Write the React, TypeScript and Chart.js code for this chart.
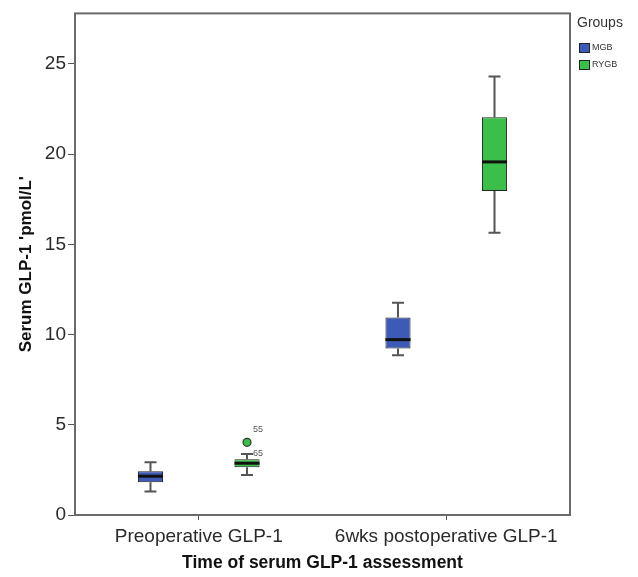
import React, { useEffect, useRef } from "react";
import { Chart, registerables } from "chart.js";

Chart.register(...registerables);

const categories = ["Preoperative GLP-1", "6wks postoperative GLP-1"];
const groups = ["MGB", "RYGB"];
const groupColors = ["#3d5ab6", "#3cbf4a"];

const mgbMin = [1.3, 8.85];
const mgbQ1 = [1.82, 9.23];
const mgbMedian = [2.15, 9.72];
const mgbQ3 = [2.43, 10.94];
const mgbMax = [2.93, 11.77];

const rygbMin = [2.21, 15.64];
const rygbQ1 = [2.65, 17.96];
const rygbMedian = [2.87, 19.57];
const rygbQ3 = [3.09, 22.04];
const rygbMax = [3.38, 24.3];

// outliers: group index, category index, value, case label, marker shown
const outlierGroup = [1, 1];
const outlierCategory = [0, 0];
const outlierValues = [4.03, 3.42];
const outlierLabels = ["55", "65"];
const outlierMarker = [true, false];

const yTicks = [0, 5, 10, 15, 20, 25];
const yMax = 27.8;

const FONT = "'Liberation Sans', Arial, sans-serif";

const stats = [
  { min: mgbMin, q1: mgbQ1, med: mgbMedian, q3: mgbQ3, max: mgbMax },
  { min: rygbMin, q1: rygbQ1, med: rygbMedian, q3: rygbQ3, max: rygbMax },
];

const boxPlugin = {
  id: "boxExtras",
  beforeDatasetsDraw(chart: any) {
    const ctx = chart.ctx;
    const y = chart.scales.y;
    ctx.save();
    stats.forEach((s, di) => {
      const meta = chart.getDatasetMeta(di);
      meta.data.forEach((el: any, ci: number) => {
        const x = el.x;
        const capW = 12;
        ctx.strokeStyle = "#555";
        ctx.lineWidth = 2;
        ctx.beginPath();
        ctx.moveTo(x, y.getPixelForValue(s.q3[ci]));
        ctx.lineTo(x, y.getPixelForValue(s.max[ci]));
        ctx.moveTo(x, y.getPixelForValue(s.q1[ci]));
        ctx.lineTo(x, y.getPixelForValue(s.min[ci]));
        ctx.moveTo(x - capW / 2, y.getPixelForValue(s.max[ci]));
        ctx.lineTo(x + capW / 2, y.getPixelForValue(s.max[ci]));
        ctx.moveTo(x - capW / 2, y.getPixelForValue(s.min[ci]));
        ctx.lineTo(x + capW / 2, y.getPixelForValue(s.min[ci]));
        ctx.stroke();
      });
    });
    ctx.restore();
  },
  afterDatasetsDraw(chart: any) {
    const ctx = chart.ctx;
    const y = chart.scales.y;
    ctx.save();
    stats.forEach((s, di) => {
      const meta = chart.getDatasetMeta(di);
      meta.data.forEach((el: any, ci: number) => {
        const x = el.x;
        const w = el.width;
        ctx.strokeStyle = "#111";
        ctx.lineWidth = 3;
        ctx.beginPath();
        const my = y.getPixelForValue(s.med[ci]);
        ctx.moveTo(x - w / 2, my);
        ctx.lineTo(x + w / 2, my);
        ctx.stroke();
      });
    });
    outlierValues.forEach((v, i) => {
      const meta = chart.getDatasetMeta(outlierGroup[i]);
      const el: any = meta.data[outlierCategory[i]];
      const px = el.x;
      const py = y.getPixelForValue(v);
      if (outlierMarker[i]) {
        ctx.beginPath();
        ctx.arc(px, py, 4, 0, Math.PI * 2);
        ctx.fillStyle = groupColors[outlierGroup[i]];
        ctx.fill();
        ctx.lineWidth = 1.2;
        ctx.strokeStyle = "#333";
        ctx.stroke();
      }
      ctx.fillStyle = "#555";
      ctx.font = "9px " + FONT;
      ctx.textAlign = "left";
      ctx.textBaseline = "middle";
      const dy = outlierMarker[i] ? -13 : 0;
      ctx.fillText(outlierLabels[i], px + 6, py + dy);
    });
    ctx.restore();
  },
  afterDraw(chart: any) {
    const ctx = chart.ctx;
    const a = chart.chartArea;
    ctx.save();
    ctx.strokeStyle = "#6a6a6a";
    ctx.lineWidth = 2;
    ctx.strokeRect(a.left, a.top, a.right - a.left, a.bottom - a.top);
    // legend
    ctx.fillStyle = "#333";
    ctx.font = "14px " + FONT;
    ctx.textAlign = "left";
    ctx.textBaseline = "middle";
    ctx.fillText("Groups", 577, 23);
    groups.forEach((g, i) => {
      const ly = 43 + i * 17;
      ctx.fillStyle = groupColors[i];
      ctx.fillRect(579, ly, 11, 10);
      ctx.strokeStyle = "#222";
      ctx.lineWidth = 1;
      ctx.strokeRect(579.5, ly + 0.5, 10, 9);
      ctx.fillStyle = "#333";
      ctx.font = "9px " + FONT;
      ctx.fillText(g, 592, ly + 5);
    });
    ctx.restore();
  },
};

export default function App() {
  const ref = useRef<HTMLCanvasElement>(null);
  useEffect(() => {
    if (!ref.current) return;
    const chart = new Chart(ref.current, {
      type: "bar",
      data: {
        labels: categories,
        datasets: groups.map((g, di) => ({
          label: g,
          data: categories.map((_, ci) => [stats[di].q1[ci], stats[di].q3[ci]]),
          backgroundColor: groupColors[di],
          borderColor: "#222",
          borderWidth: 1,
          borderSkipped: false,
          categoryPercentage: 0.78,
          barPercentage: 0.26,
        })),
      } as any,
      options: {
        animation: false,
        responsive: false,
        layout: { padding: { top: 12, right: 68, left: 0, bottom: 0 } },
        plugins: { legend: { display: false }, tooltip: { enabled: false } },
        scales: {
          x: {
            grid: { display: true, drawOnChartArea: false, drawTicks: true, tickLength: 5, offset: false, color: "#555" },
            border: { display: false },
            ticks: { color: "#2a2a2a", font: { family: FONT, size: 19 }, padding: 5, maxRotation: 0 },
            title: {
              display: true,
              text: "Time of serum GLP-1 assessment",
              color: "#111",
              font: { family: FONT, size: 17.5, weight: "bold" },
              padding: { top: 0, bottom: 3 },
            },
            afterFit: (s: any) => { s.height = 62; },
          },
          y: {
            min: 0,
            max: yMax,
            grid: { display: true, drawOnChartArea: false, drawTicks: true, tickLength: 7, color: "#555" },
            border: { display: false },
            afterBuildTicks: (s: any) => { s.ticks = yTicks.map((v) => ({ value: v })); },
            ticks: { color: "#2a2a2a", font: { family: FONT, size: 19 }, padding: 2 },
            title: {
              display: true,
              text: "Serum GLP-1 'pmol/L'",
              color: "#111",
              font: { family: FONT, size: 17, weight: "bold" },
              padding: { top: 16, bottom: 0 },
              align: "center",
            },
            afterFit: (s: any) => { s.width = 75; },
          },
        },
      } as any,
      plugins: [boxPlugin],
    });
    return () => chart.destroy();
  }, []);
  return (
    <div style={{ position: "absolute", left: 0, top: 0, width: 638, height: 577, background: "#fff" }}>
      <canvas ref={ref} width={638} height={577} />
    </div>
  );
}
